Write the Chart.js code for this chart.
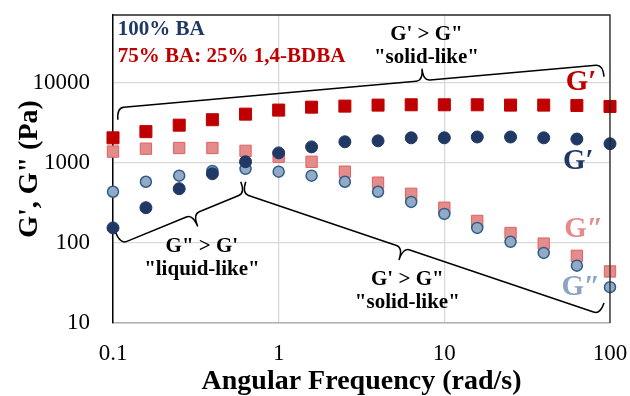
<!DOCTYPE html>
<html>
<head>
<meta charset="utf-8">
<script src="https://cdn.jsdelivr.net/npm/chart.js@4.4.1/dist/chart.umd.min.js"></script>
<style>
  html, body { margin: 0; padding: 0; background: #fff; }
</style>
</head>
<body>
<canvas id="myChart" width="630" height="396"></canvas>
<script>
// angular frequency (rad/s)
const freq = [0.1, 0.158, 0.251, 0.398, 0.631, 1, 1.58, 2.51, 3.98, 6.31, 10, 15.8, 25.1, 39.8, 63.1, 100];
// 75% BA : 25% 1,4-BDBA
const gStorage75 = [2050, 2450, 2950, 3450, 4050, 4550, 4950, 5100, 5250, 5300, 5300, 5300, 5250, 5250, 5200, 5050];
const gLoss75 = [1380, 1500, 1530, 1530, 1410, 1190, 1030, 775, 565, 410, 275, 188, 133, 98, 69, 44];
// 100% BA
const gStorage100 = [154, 275, 475, 730, 1030, 1330, 1580, 1830, 1880, 2050, 2050, 2100, 2100, 2050, 1980, 1730];
const gLoss100 = [435, 580, 690, 790, 840, 775, 690, 580, 435, 325, 230, 154, 103, 75, 52, 28];

const xTicks = [0.1, 1, 10, 100];
const yTicks = [10, 100, 1000, 10000];

const navy = "#1F3864";
const red = "#C00000";
const serif = "'Liberation Serif', 'Times New Roman', serif";

// text notes, placed in data coordinates (freq, Pa)
const notes = [
  { text: "100% BA", x: 0.107, y: 46000, color: navy, size: 21, align: "left" },
  { text: "75% BA: 25% 1,4-BDBA", x: 0.107, y: 21100, color: red, size: 21, align: "left" },
  { text: "G' > G\"", x: 7.8, y: 39800, color: "#000", size: 21, align: "center" },
  { text: "\"solid-like\"", x: 7.8, y: 20500, color: "#000", size: 21, align: "center" },
  { text: "G\" > G'", x: 0.344, y: 89, color: "#000", size: 21, align: "center" },
  { text: "\"liquid-like\"", x: 0.344, y: 46, color: "#000", size: 21, align: "center" },
  { text: "G' > G\"", x: 5.98, y: 34.5, color: "#000", size: 21, align: "center" },
  { text: "\"solid-like\"", x: 5.98, y: 17.8, color: "#000", size: 21, align: "center" },
  { text: "G\u2032", x: 54, y: 10000, color: red, size: 29, align: "left" },
  { text: "G\u2032", x: 52, y: 1030, color: navy, size: 29, align: "left" },
  { text: "G\u2033", x: 53, y: 145, color: "#E38A8A", size: 29, align: "left" },
  { text: "G\u2033", x: 51, y: 27.4, color: "#8CA3C3", size: 29, align: "left" },
];

// curly braces: ends in data coords, t = nub position, h/w = depth in px
const braces = [
  { from: [0.107, 3450], to: [92, 11900], t: 0.63, h: 12, w: 24 },
  { from: [0.104, 133], to: [0.59, 579], t: 0.58, h: -12, w: -25 },
  { from: [0.633, 579], to: [92, 17.8], t: 0.45, h: -12, w: -25 },
];

function drawBrace(ctx, x1, y1, x2, y2, t, h, w, r) {
  const len = Math.hypot(x2 - x1, y2 - y1);
  const ux = (x2 - x1) / len, uy = (y2 - y1) / len;
  const nx = uy, ny = -ux;
  const mx = x1 + ux * len * t, my = y1 + uy * len * t;
  const p = (x, y, a, b) => [x + ux * a + nx * b, y + uy * a + ny * b];
  ctx.beginPath();
  ctx.moveTo(x1, y1);
  let c = p(x1, y1, 0, h), e = p(x1, y1, r, h);
  ctx.quadraticCurveTo(c[0], c[1], e[0], e[1]);
  e = p(mx, my, -r, h);
  ctx.lineTo(e[0], e[1]);
  c = p(mx, my, 0, h); e = p(mx, my, 0, w);
  ctx.quadraticCurveTo(c[0], c[1], e[0], e[1]);
  e = p(mx, my, r, h);
  ctx.quadraticCurveTo(c[0], c[1], e[0], e[1]);
  e = p(x2, y2, -r, h);
  ctx.lineTo(e[0], e[1]);
  c = p(x2, y2, 0, h);
  ctx.quadraticCurveTo(c[0], c[1], x2, y2);
  ctx.stroke();
}

const annotations = {
  id: "annotations",
  afterDraw(chart) {
    const ctx = chart.ctx;
    const xs = chart.scales.x, ys = chart.scales.y;
    const area = chart.chartArea;
    ctx.save();
    // top & right frame
    ctx.strokeStyle = "#262626";
    ctx.lineWidth = 1.3;
    ctx.beginPath();
    ctx.moveTo(area.left, area.top);
    ctx.lineTo(area.right, area.top);
    ctx.lineTo(area.right, area.bottom);
    ctx.stroke();

    ctx.strokeStyle = "#000";
    ctx.lineWidth = 1.5;
    braces.forEach((b) => {
      drawBrace(ctx,
        xs.getPixelForValue(b.from[0]), ys.getPixelForValue(b.from[1]),
        xs.getPixelForValue(b.to[0]), ys.getPixelForValue(b.to[1]),
        b.t, b.h, b.w, 7);
    });

    ctx.textBaseline = "middle";
    notes.forEach((n) => {
      ctx.font = "bold " + n.size + "px " + serif;
      ctx.fillStyle = n.color;
      ctx.textAlign = n.align;
      ctx.fillText(n.text, xs.getPixelForValue(n.x), ys.getPixelForValue(n.y));
    });
    ctx.restore();
  },
};

const pts = (vals) => freq.map((f, i) => ({ x: f, y: vals[i] }));

const noPad = (s) => {
  s.paddingTop = 0;
  s.paddingBottom = 0;
  s.paddingLeft = 0;
  s.paddingRight = 0;
};

const data = {
  datasets: [
    {
      label: "G' 100% BA",
      data: pts(gStorage100),
      pointStyle: "circle",
      pointRadius: 6,
      backgroundColor: navy,
      borderColor: navy,
      borderWidth: 1,
      clip: false,
    },
    {
      label: "G'' 100% BA",
      data: pts(gLoss100),
      pointStyle: "circle",
      pointRadius: 5.5,
      backgroundColor: "#93AAC4",
      borderColor: "#2E5D8C",
      borderWidth: 1.5,
      clip: false,
    },
    {
      label: "G'' 75% BA",
      data: pts(gLoss75),
      pointStyle: "rect",
      pointRadius: 8,
      backgroundColor: "#E48C8C",
      borderColor: "#E06060",
      borderWidth: 1,
      clip: false,
    },
    {
      label: "G' 75% BA",
      data: pts(gStorage75),
      pointStyle: "rect",
      pointRadius: 8.5,
      backgroundColor: red,
      borderColor: red,
      borderWidth: 1,
      clip: false,
    },
  ],
};

const config = {
  type: "scatter",
  data: data,
  options: {
    responsive: false,
    animation: false,
    layout: { padding: { top: 15, right: 20, left: 0, bottom: 0 } },
    plugins: { legend: { display: false }, tooltip: { enabled: false } },
    scales: {
      x: {
        type: "logarithmic",
        min: 0.1,
        max: 100,
        afterBuildTicks: (s) => { s.ticks = xTicks.map((v) => ({ value: v })); },
        afterFit: (s) => { s.height = 73; noPad(s); },
        ticks: {
          callback: (v) => String(v),
          font: { family: serif, size: 23 },
          color: "#000",
          padding: 17,
          maxRotation: 0,
          autoSkip: false,
        },
        grid: { color: "#d9d9d9", lineWidth: 1.3, drawTicks: false },
        border: { color: "#b0b0b0", width: 1.5 },
        title: {
          display: true,
          text: "Angular Frequency (rad/s)",
          font: { family: serif, size: 28, weight: "bold", lineHeight: 1 },
          color: "#000",
          padding: { top: 0, bottom: 0 },
        },
      },
      y: {
        type: "logarithmic",
        min: 10,
        max: 70000,
        afterBuildTicks: (s) => { s.ticks = yTicks.map((v) => ({ value: v })); },
        afterFit: (s) => { s.width = 113; noPad(s); },
        ticks: {
          callback: (v) => String(v),
          font: { family: serif, size: 23 },
          color: "#000",
          padding: 23,
          autoSkip: false,
        },
        grid: { color: "#d9d9d9", lineWidth: 1.3, drawTicks: false },
        border: { color: "#000", width: 1.5 },
        title: {
          display: true,
          text: "G', G\" (Pa)",
          font: { family: serif, size: 28, weight: "bold", lineHeight: 1 },
          color: "#000",
          padding: { top: 16, bottom: 0 },
        },
      },
    },
  },
  plugins: [annotations],
};

const myChart = new Chart(document.getElementById("myChart"), config);
</script>
</body>
</html>
